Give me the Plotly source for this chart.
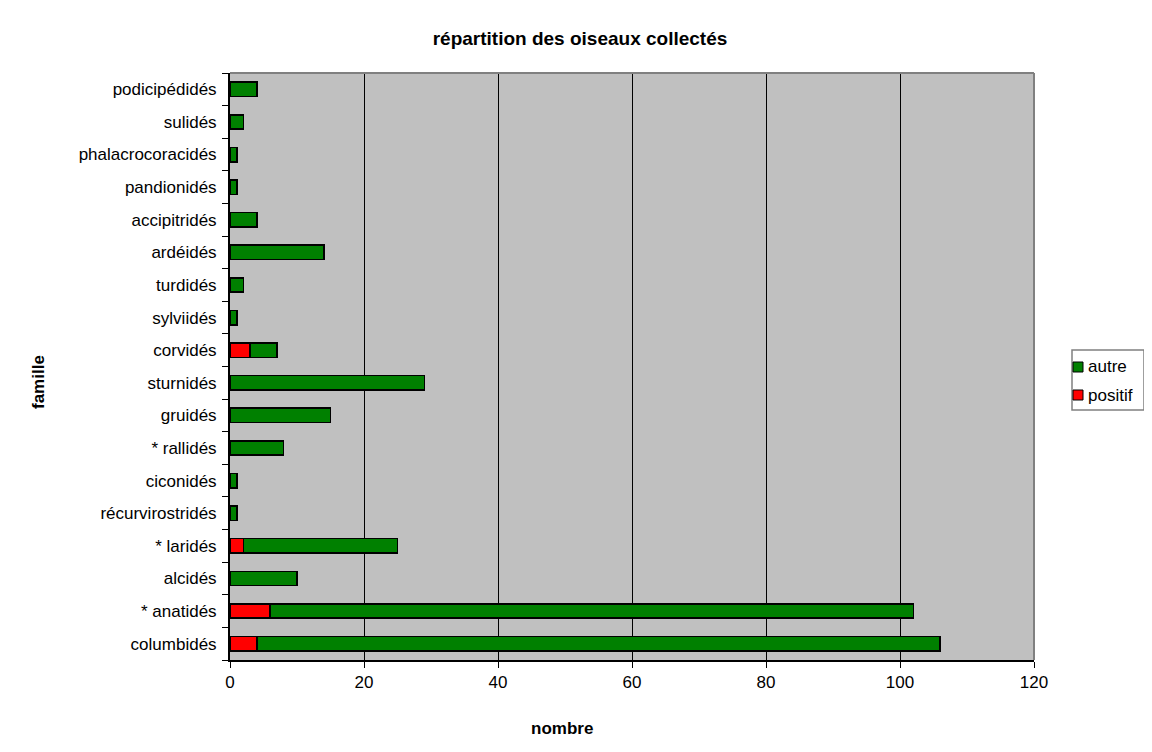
import plotly.graph_objects as go

# data, bottom to top as drawn
familles = ["columbidés", "* anatidés", "alcidés", "* laridés", "récurvirostridés",
            "ciconidés", "* rallidés", "gruidés", "sturnidés", "corvidés", "sylviidés",
            "turdidés", "ardéidés", "accipitridés", "pandionidés", "phalacrocoracidés",
            "sulidés", "podicipédidés"]
positif = [4, 6, 0, 2, 0, 0, 0, 0, 0, 3, 0, 0, 0, 0, 0, 0, 0, 0]
autre = [102, 96, 10, 23, 1, 1, 8, 15, 29, 4, 1, 2, 14, 4, 1, 1, 2, 4]
x_ticks = [0, 20, 40, 60, 80, 100, 120]

font = "Liberation Sans, Arial, sans-serif"
GREEN = "#008000"
RED = "#FF0000"

fig = go.Figure()
fig.add_trace(go.Bar(y=familles, x=positif, orientation="h", name="positif",
                     marker=dict(color=RED, line=dict(color="black", width=1.6))))
fig.add_trace(go.Bar(y=familles, x=autre, orientation="h", name="autre",
                     marker=dict(color=GREEN, line=dict(color="black", width=1.6))))

# page body adds 8px offset, so figure is 8px smaller
fig.update_layout(
    width=1144, height=744,
    barmode="stack", bargap=0.56,
    paper_bgcolor="white", plot_bgcolor="#C0C0C0",
    margin=dict(l=222, r=118, t=65, b=92, autoexpand=False),
    font=dict(family=font, size=17, color="black"),
    title=dict(text="<b>répartition des oiseaux collectés</b>", x=0.5, xanchor="center",
               yref="container", y=1 - 30 / 744, yanchor="middle", font=dict(size=19)),
    showlegend=False,
)

fig.update_xaxes(range=[0, 120], tickvals=x_ticks, showgrid=True, gridcolor="black", gridwidth=1,
                 showline=True, linecolor="black", linewidth=2, ticks="outside", ticklen=6,
                 tickcolor="black", zeroline=False, automargin=False)
fig.update_yaxes(categoryorder="array", categoryarray=familles, showgrid=False,
                 showline=True, linecolor="black", linewidth=2, ticks="outside", ticklen=6,
                 tickcolor="black", tickson="boundaries", ticklabelstandoff=8, automargin=False)

# gray frame on top and right of plot area
fig.add_shape(type="line", xref="paper", yref="paper", x0=0, x1=1, y0=1, y1=1,
              line=dict(color="#808080", width=2))
fig.add_shape(type="line", xref="paper", yref="paper", x0=1, x1=1, y0=0, y1=1,
              line=dict(color="#808080", width=2))


# paper coords from reference plot-area pixels
def px(x):
    return (x - 230) / 804


def py(y):
    return (660 - y) / 587


# axis titles, placed as in the reference
fig.add_annotation(xref="paper", yref="paper", x=px(562), y=py(728), text="<b>nombre</b>",
                   showarrow=False, xanchor="center", yanchor="middle", font=dict(size=17))
fig.add_annotation(xref="paper", yref="paper", x=px(38), y=py(382), text="<b>famille</b>",
                   showarrow=False, xanchor="center", yanchor="middle", textangle=-90,
                   font=dict(size=17))

# legend drawn by hand
fig.add_shape(type="rect", xref="paper", yref="paper", x0=px(1072), x1=px(1144),
              y0=py(410), y1=py(350), line=dict(color="#808080", width=1.5), fillcolor="white")
for name, col, yc in [("autre", GREEN, 367), ("positif", RED, 395)]:
    fig.add_shape(type="rect", xref="paper", yref="paper", x0=px(1073), x1=px(1083),
                  y0=py(yc + 5), y1=py(yc - 5), line=dict(color="black", width=1), fillcolor=col)
    fig.add_annotation(xref="paper", yref="paper", x=px(1086), y=py(yc), text=name,
                       showarrow=False, xanchor="left", yanchor="middle", font=dict(size=17))

fig.write_html("out.html")
